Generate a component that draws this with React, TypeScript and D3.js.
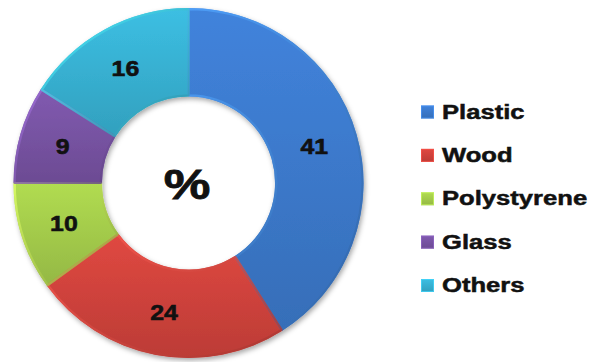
import React from "react";
import * as d3 from "d3";

const categories = ["Plastic", "Wood", "Polystyrene", "Glass", "Others"];
const values = [41, 24, 10, 9, 16];
const colors = ["#3b78c9", "#cd423b", "#a2c94a", "#7652a1", "#37afd0"];
const centerLabel = "%";

const W = 593;
const H = 362;
const cx = 188.5;
const cy = 183;
const rOuter = 175;
const rInner = 86.5;
const FONT = "'Liberation Sans', Arial, Helvetica, sans-serif";

export default function App() {
  const pie = d3.pie<number>().sort(null).value((d) => d)(values);
  const arc = d3.arc<d3.PieArcDatum<number>>().innerRadius(rInner).outerRadius(rOuter);
  const labelArc = d3.arc<d3.PieArcDatum<number>>().innerRadius(131).outerRadius(131);
  const legendY = d3.scalePoint<string>().domain(categories).range([111.5, 285]);

  return (
    <svg
      width={W}
      height={H}
      style={{ position: "absolute", left: 0, top: 0, background: "#fff" }}
    >
      <defs>
        <filter id="shadow" x="-20%" y="-20%" width="140%" height="140%">
          <feDropShadow dx="1.5" dy="2.5" stdDeviation="2.5" floodColor="#000" floodOpacity="0.35" />
        </filter>
        {colors.map((c, i) => (
          <linearGradient key={i} id={`g${i}`} x1="0" y1="0" x2="0" y2="1">
            <stop offset="0%" stopColor={d3.color(c)!.brighter(0.25).formatHex()} />
            <stop offset="100%" stopColor={d3.color(c)!.darker(0.25).formatHex()} />
          </linearGradient>
        ))}
        {colors.map((c, i) => (
          <linearGradient key={i} id={`s${i}`} x1="0" y1="0" x2="1" y2="1">
            <stop offset="0%" stopColor={d3.color(c)!.brighter(0.9).formatHex()} />
            <stop offset="100%" stopColor={d3.color(c)!.darker(0.6).formatHex()} />
          </linearGradient>
        ))}
      </defs>
      <g transform={`translate(${cx},${cy})`}>
        <g filter="url(#shadow)">
          {pie.map((p, i) => (
            <path key={i} d={arc(p) || ""} fill={`url(#g${i})`} />
          ))}
        </g>
        {pie.map((p, i) => (
          <path
            key={"e" + i}
            d={d3.arc<d3.PieArcDatum<number>>().innerRadius(rInner + 1.2).outerRadius(rOuter - 1.2)(p) || ""}
            fill="none"
            stroke={`url(#s${i})`}
            strokeWidth={2.2}
            strokeOpacity={0.8}
            strokeLinejoin="round"
          />
        ))}
        {pie.map((p, i) => {
          const [x, y] = labelArc.centroid(p);
          return (
            <text
              key={"t" + i}
              transform={`translate(${x},${y + 8}) scale(1.13,1)`}
              textAnchor="middle"
              fontFamily={FONT}
              fontWeight="bold"
              fontSize={22}
              fill="#111"
              stroke="#111"
              strokeWidth={0.6}
            >
              {values[i]}
            </text>
          );
        })}
        <text
          transform={`translate(-1.5,15.5) scale(1.22,1)`}
          textAnchor="middle"
          fontFamily={FONT}
          fontWeight="bold"
          fontSize={43}
          fill="#111"
          stroke="#111"
          strokeWidth={0.8}
        >
          {centerLabel}
        </text>
      </g>
      <g>
        {categories.map((c, i) => {
          const y = legendY(c)!;
          return (
            <g key={c}>
              <rect x={421} y={y - 6} width={13} height={13} fill={`url(#g${i})`} />
              <rect x={421.5} y={y - 5.5} width={12} height={12} fill="none" stroke={d3.color(colors[i])!.brighter(0.6).formatHex()} strokeWidth={1} strokeOpacity={0.7} />
              <text
                transform={`translate(442,${y + 7}) scale(1.22,1)`}
                fontFamily={FONT}
                fontWeight="bold"
                fontSize={21}
                fill="#111"
                stroke="#111"
                strokeWidth={0.5}
              >
                {c}
              </text>
            </g>
          );
        })}
      </g>
    </svg>
  );
}
